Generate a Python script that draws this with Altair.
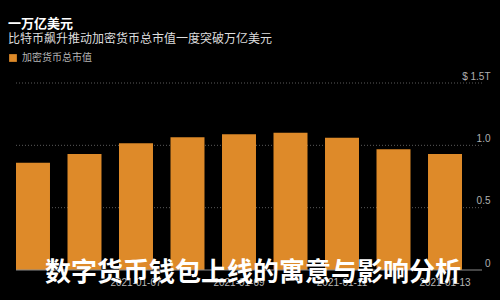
import altair as alt
import pandas as pd

dates = ["2021-01-05", "2021-01-06", "2021-01-07", "2021-01-08", "2021-01-09",
         "2021-01-10", "2021-01-11", "2021-01-12", "2021-01-13"]
market_cap = [0.86, 0.93, 1.016, 1.064, 1.088, 1.10, 1.06, 0.968, 0.93]
series_name = "加密货币总市值"
tick_values = [0, 0.5, 1.0, 1.5]
x_label_dates = ["2021-01-05", "2021-01-07", "2021-01-09", "2021-01-11", "2021-01-13"]
title_text = "一万亿美元"
subtitle_text = "比特币飙升推动加密货币总市值一度突破万亿美元"
overlay_text = "数字货币钱包上线的寓意与影响分析"

df = pd.DataFrame({"date": dates, "value": market_cap, "series": series_name})
grid_df = pd.DataFrame({"v": tick_values[1:]})
zero_df = pd.DataFrame({"v": [0]})

ORANGE = "#DE8A29"
FONT = "Noto Sans CJK SC"

y_scale = alt.Scale(domain=[0, 1.5])

bars = alt.Chart(df).mark_bar(color=ORANGE).encode(
    x=alt.X("date:N", sort=dates,
            scale=alt.Scale(range=[0, 446], paddingInner=0.34, paddingOuter=0),
            axis=alt.Axis(title=None, values=x_label_dates,
                          ticks=False, domain=False, labelAngle=0, labelFontSize=10,
                          labelColor="#b8b8b8", labelPadding=7, labelFont="Liberation Sans",
                          grid=False)),
    y=alt.Y("value:Q", scale=y_scale,
            axis=alt.Axis(orient="right", title=None, values=tick_values, grid=False,
                          ticks=False, domain=False, labelAlign="right", labelBaseline="bottom",
                          labelPadding=8, labelOffset=-2, labelFontSize=10, labelColor="#b0b0b0",
                          labelFont="Liberation Sans",
                          labelExpr="datum.value == 1.5 ? '$ 1.5T' : (datum.value == 0 ? '0' : format(datum.value, '.1f'))")),
    fill=alt.Fill("series:N", scale=alt.Scale(range=[ORANGE]),
                  legend=alt.Legend(title=None, orient="none", legendX=-8, legendY=-30,
                                    symbolType="square", symbolSize=60, labelFontSize=10,
                                    labelColor="#b5b5b5", labelFont=FONT, symbolStrokeWidth=0)),
)

grid = alt.Chart(grid_df).mark_rule(color="#5a5a5a", strokeDash=[1, 2], strokeWidth=1).encode(
    y=alt.Y("v:Q", scale=y_scale), x=alt.value(0), x2=alt.value(466)
)
zero = alt.Chart(zero_df).mark_rule(color="#8a8a8a", strokeWidth=1).encode(
    y=alt.Y("v:Q", scale=y_scale), x=alt.value(0), x2=alt.value(466)
)
overlay = alt.Chart(zero_df).mark_text(
    text=overlay_text, font=FONT, fontSize=26, fontWeight="bold", color="#ffffff",
    align="center", baseline="middle"
).encode(x=alt.value(237), y=alt.value(190))

chart = alt.layer(grid, bars, zero, overlay).properties(
    width=466, height=187,
    autosize=alt.AutoSizeParams(type="none"),
    padding={"left": 16, "top": 83, "right": 18, "bottom": 30},
    background="#000000",
    title=alt.TitleParams(text=title_text, subtitle=subtitle_text, anchor="start", frame="group",
                          font=FONT, fontSize=13, fontWeight="bold", color="#ffffff",
                          subtitleFont=FONT, subtitleFontSize=12, subtitleColor="#dedede",
                          subtitlePadding=3, offset=8, dx=-8),
).configure_view(stroke=None).configure_axis(labelFont="Liberation Sans")

chart.save("out.html", embed_options={"renderer": "svg", "actions": False})
